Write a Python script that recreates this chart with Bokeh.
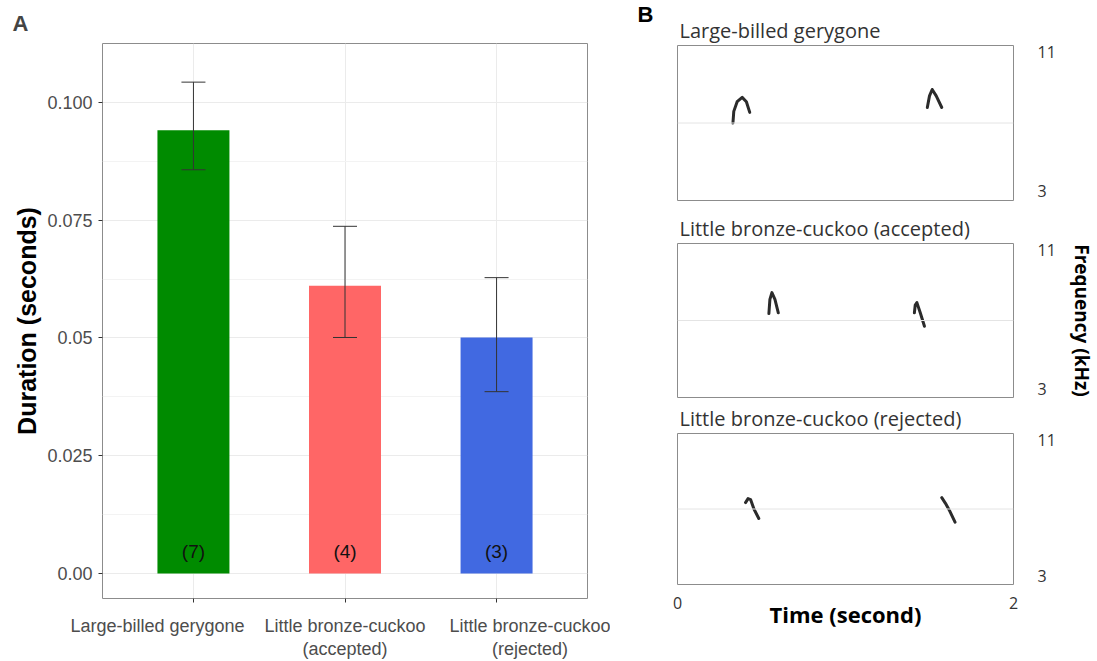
from bokeh.plotting import figure
from bokeh.layouts import row, column
from bokeh.models import (ColumnDataSource, Whisker, TeeHead, Span, FactorRange, Range1d,
                          FixedTicker, CategoricalAxis, LinearAxis, Title, CustomLabelingPolicy)
from bokeh.embed import file_html
from bokeh.resources import INLINE

# ---------------- data ----------------
categories = ["Large-billed gerygone", "Little bronze-cuckoo\n(accepted)", "Little bronze-cuckoo\n(rejected)"]
mean_duration = [0.0941, 0.0611, 0.0501]
upper_err = [0.1043, 0.0737, 0.0628]
lower_err = [0.0857, 0.0501, 0.0386]
sample_n = ["(7)", "(4)", "(3)"]
bar_colors = ["#008B00", "#FF6666", "#4169E1"]

y_ticks = [0.0, 0.025, 0.05, 0.075, 0.1]
y_tick_labels = ["0.00", "0.025", "0.05", "0.075", "0.100"]
y_minor = [0.0125, 0.0375, 0.0625, 0.0875, 0.1125]

spec_titles = ["Large-billed gerygone", "Little bronze-cuckoo (accepted)", "Little bronze-cuckoo (rejected)"]
time_ticks = [0, 2]
time_tick_labels = ["0", "2"]
freq_ticks = [3, 11]
freq_tick_labels = ["3", "11"]
ref_freq = 7.0

# syllable traces (time s, frequency kHz)
gery_t = [[0.330, 0.335, 0.355, 0.385, 0.410, 0.430], [1.487, 1.500, 1.516, 1.540, 1.573]]
gery_f = [[7.00, 7.60, 8.10, 8.32, 8.10, 7.55], [7.80, 8.40, 8.73, 8.40, 7.80]]
acc_t = [[0.544, 0.550, 0.562, 0.580, 0.600], [1.410, 1.415, 1.425, 1.445, 1.470]]
acc_f = [[7.36, 8.10, 8.45, 8.10, 7.40], [7.40, 7.80, 7.93, 7.40, 6.70]]
rej_t = [[0.405, 0.420, 0.435, 0.455, 0.484], [1.573, 1.595, 1.620, 1.652]]
rej_f = [[7.34, 7.55, 7.50, 7.00, 6.50], [7.60, 7.30, 6.90, 6.30]]

SANS = "Liberation Sans"
BFONT = "Open Sans"

# ---------------- panel A ----------------
src = ColumnDataSource(dict(cat=categories, mean=mean_duration, upper=upper_err,
                            lower=lower_err, n=sample_n, color=bar_colors))

p = figure(width=610, height=661,
           x_range=FactorRange(factors=categories, range_padding=0.1, range_padding_units="absolute"),
           y_range=Range1d(-0.0053, 0.1125),
           output_backend="svg", toolbar_location=None,
           min_border_left=102, min_border_right=23, min_border_top=43, min_border_bottom=63)

p.title.text = "A"
p.title.text_font = SANS
p.title.text_font_size = "22px"
p.title.text_font_style = "bold"
p.title.align = "left"
p.title.offset = -90
p.title.standoff = 16

p.vbar(x="cat", top="mean", bottom=0, width=0.475, source=src, fill_color="color", line_color=None)

wh = Whisker(source=src, base="cat", upper="upper", lower="lower", line_color="#333333", line_width=1,
             upper_head=TeeHead(size=24, line_color="#333333", line_width=1),
             lower_head=TeeHead(size=24, line_color="#333333", line_width=1), level="overlay")
p.add_layout(wh)

p.text(x="cat", y=0.0047, text="n", source=src, text_align="center", text_baseline="middle",
       text_font={"value": SANS}, text_font_size="19px", text_color="#111111")

# main x axis: tick marks at the bars only; labels drawn by a second axis
xax = p.below[0]
yax = p.left[0]
yax.ticker = FixedTicker(ticks=y_ticks, minor_ticks=y_minor)
yax.major_label_overrides = {t: l for t, l in zip(y_ticks, y_tick_labels)}
for ax in (xax, yax):
    ax.axis_line_color = None
    ax.major_tick_line_color = "#333333"
    ax.major_tick_out = 4
    ax.major_tick_in = 0
    ax.minor_tick_line_color = None
    ax.major_label_text_font = SANS
    ax.major_label_text_color = "#4d4d4d"
xax.major_label_policy = CustomLabelingPolicy(code="""
for (let i = 0; i < indices.size; i++) { indices.unset(i) }
return indices
""")
xax.major_label_text_font_size = "0px"
xax.major_label_standoff = 0
yax.major_label_text_font_size = "18px"
yax.major_label_standoff = 6
yax.axis_label = "Duration (seconds)"
yax.axis_label_text_font = SANS
yax.axis_label_text_font_style = "bold"
yax.axis_label_text_font_size = "25px"
yax.axis_label_text_color = "#000000"
yax.axis_label_standoff = 3

# label axis (labels spread apart so they do not collide, as in the original)
p.extra_x_ranges = {"lab": FactorRange(factors=categories, factor_padding=0.875,
                                       range_padding=0.05, range_padding_units="absolute")}
lab_ax = CategoricalAxis(x_range_name="lab", axis_line_color=None, major_tick_line_color=None,
                         minor_tick_line_color=None, major_label_text_font=SANS,
                         major_label_text_font_size="18px", major_label_text_color="#4d4d4d",
                         major_label_text_line_height=1.15, major_label_standoff=7)
p.add_layout(lab_ax, "below")

p.xgrid.grid_line_color = "#ebebeb"
p.ygrid.grid_line_color = "#ebebeb"
p.ygrid.minor_grid_line_color = "#f3f3f3"
p.outline_line_color = "#8c8c8c"
p.outline_line_width = 1


# ---------------- panel B ----------------
def spec(title, h, top, bottom, ts, fs, freq_label=None, time_axis=False, panel_letter=None):
    f = figure(width=487, height=h, x_range=Range1d(time_ticks[0], time_ticks[-1]),
               y_range=Range1d(freq_ticks[0], freq_ticks[-1]),
               x_axis_type=None, y_axis_type=None,
               output_backend="svg", toolbar_location=None,
               min_border_left=67, min_border_right=69, min_border_top=top, min_border_bottom=bottom)
    tkw = dict(text=title, text_font=BFONT, text_font_size="20px", text_font_style="normal",
               text_color="#333333", text_line_height=1.0, align="left", offset=2, standoff=4)
    if panel_letter:
        f.title.text = panel_letter
        f.title.text_font = SANS
        f.title.text_font_size = "22px"
        f.title.text_font_style = "bold"
        f.title.text_color = "#000000"
        f.title.text_line_height = 1.0
        f.title.align = "left"
        f.title.offset = -40
        f.title.standoff = -29
        f.add_layout(Title(**tkw), "above")
    else:
        for k, v in tkw.items():
            setattr(f.title, k, v)
    f.grid.visible = False
    f.outline_line_color = "#8c8c8c"
    f.outline_line_width = 1
    f.add_layout(Span(location=ref_freq, dimension="width", line_color="#e4e4e4", line_width=1))
    f.multi_line(xs=ts, ys=fs, line_color="#2b2b2b", line_width=3.0, line_cap="round", line_join="round")

    # frequency labels sit just inside the box ends, as in the original
    f.extra_y_ranges = {"lab": Range1d(2.48, 11.40)}
    ra = LinearAxis(y_range_name="lab", ticker=FixedTicker(ticks=freq_ticks),
                    major_label_overrides={t: l for t, l in zip(freq_ticks, freq_tick_labels)},
                    axis_line_color=None, major_tick_line_color=None, minor_tick_line_color=None,
                    major_label_standoff=18, major_label_text_font=BFONT,
                    major_label_text_font_size="16px", major_label_text_color="#333333")
    if freq_label:
        ra.axis_label = freq_label
        ra.axis_label_text_font = BFONT
        ra.axis_label_text_font_size = "19px"
        ra.axis_label_text_font_style = "bold"
        ra.axis_label_text_color = "#000000"
        ra.axis_label_standoff = 10
    f.add_layout(ra, "right")

    if time_axis:
        ba = LinearAxis(ticker=FixedTicker(ticks=time_ticks),
                        major_label_overrides={t: l for t, l in zip(time_ticks, time_tick_labels)},
                        axis_line_color=None, major_tick_line_color=None, minor_tick_line_color=None,
                        major_label_standoff=6, major_label_text_font=BFONT,
                        major_label_text_font_size="16px", major_label_text_color="#333333",
                        axis_label="Time (second)", axis_label_text_font=BFONT,
                        axis_label_text_font_size="22px", axis_label_text_font_style="bold",
                        axis_label_text_color="#000000", axis_label_standoff=-13)
        f.add_layout(ba, "below")
    return f


b1 = spec(spec_titles[0], 210, 45, 10, gery_t, gery_f, panel_letter="B")
b2 = spec(spec_titles[1], 190, 33, 3, acc_t, acc_f, freq_label="Frequency (kHz)")
b3 = spec(spec_titles[2], 261, 31, 77, rej_t, rej_f, time_axis=True)

layout = row(p, column(b1, b2, b3))
open("out.html", "w").write(file_html(layout, INLINE))
